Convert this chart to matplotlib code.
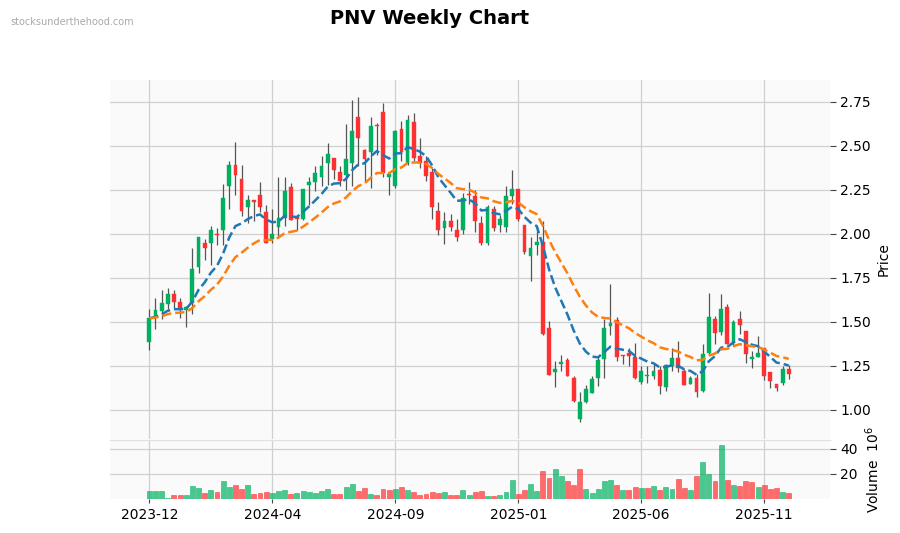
import numpy as np
import pandas as pd
import matplotlib
matplotlib.use("Agg")
import matplotlib.pyplot as plt

# ---- data (weekly OHLC, volume in millions) ----
dates = pd.date_range("2023-12-04", periods=105, freq="W-MON")

opens = [1.386, 1.530, 1.562, 1.603, 1.656, 1.611, 1.568, 1.605, 1.811, 1.945,
         1.945, 2.001, 2.020, 2.269, 2.392, 2.313, 2.151, 2.192, 2.220, 2.126,
         1.968, 2.037, 2.090, 2.264, 2.094, 2.086, 2.279, 2.294, 2.320, 2.401,
         2.430, 2.350, 2.332, 2.401, 2.662, 2.477, 2.462, 2.617, 2.690, 2.322,
         2.269, 2.596, 2.401, 2.633, 2.443, 2.415, 2.350, 2.132, 2.030, 2.075,
         2.024, 2.020, 2.224, 2.216, 2.062, 1.949, 2.143, 2.049, 2.037, 2.213,
         2.256, 2.052, 1.873, 1.935, 1.954, 1.464, 1.217, 1.260, 1.283, 1.181,
         0.949, 1.047, 1.096, 1.183, 1.288, 1.477, 1.511, 1.313, 1.322, 1.303,
         1.160, 1.190, 1.194, 1.226, 1.133, 1.252, 1.292, 1.222, 1.150, 1.181,
         1.109, 1.326, 1.518, 1.443, 1.586, 1.379, 1.515, 1.447, 1.290, 1.300,
         1.349, 1.218, 1.150, 1.152, 1.235]
highs = [1.571, 1.637, 1.679, 1.690, 1.679, 1.637, 1.590, 1.920, 1.980, 1.968,
         2.043, 2.034, 2.283, 2.415, 2.522, 2.390, 2.222, 2.194, 2.294, 2.164,
         2.141, 2.320, 2.320, 2.288, 2.094, 2.256, 2.322, 2.386, 2.443, 2.515,
         2.430, 2.383, 2.624, 2.760, 2.779, 2.482, 2.662, 2.630, 2.741, 2.340,
         2.590, 2.643, 2.675, 2.684, 2.543, 2.439, 2.373, 2.179, 2.124, 2.113,
         2.085, 2.232, 2.292, 2.250, 2.100, 2.166, 2.156, 2.109, 2.269, 2.364,
         2.256, 2.052, 1.983, 2.043, 2.071, 1.505, 1.279, 1.311, 1.292, 1.194,
         1.100, 1.141, 1.194, 1.307, 1.518, 1.716, 1.530, 1.313, 1.349, 1.382,
         1.250, 1.250, 1.260, 1.250, 1.260, 1.354, 1.392, 1.232, 1.190, 1.203,
         1.373, 1.666, 1.533, 1.656, 1.601, 1.511, 1.562, 1.447, 1.335, 1.420,
         1.349, 1.218, 1.150, 1.250, 1.254]
lows = [1.341, 1.462, 1.515, 1.571, 1.571, 1.524, 1.473, 1.543, 1.779, 1.854,
        1.820, 1.935, 1.934, 2.141, 2.222, 2.100, 2.062, 2.075, 2.124, 1.945,
        1.949, 1.986, 2.043, 2.081, 2.024, 2.080, 2.166, 2.241, 2.269, 2.279,
        2.311, 2.269, 2.250, 2.269, 2.383, 2.294, 2.260, 2.450, 2.320, 2.222,
        2.260, 2.411, 2.392, 2.411, 2.373, 2.298, 2.086, 1.992, 1.943, 2.015,
        1.958, 1.996, 2.171, 2.011, 1.939, 1.935, 2.015, 2.011, 2.011, 2.171,
        2.071, 1.888, 1.732, 1.879, 1.424, 1.200, 1.128, 1.219, 1.190, 1.047,
        0.930, 1.040, 1.096, 1.137, 1.184, 1.424, 1.279, 1.260, 1.247, 1.175,
        1.147, 1.152, 1.175, 1.090, 1.109, 1.222, 1.213, 1.141, 1.147, 1.071,
        1.103, 1.317, 1.373, 1.424, 1.373, 1.364, 1.430, 1.264, 1.237, 1.298,
        1.170, 1.124, 1.105, 1.141, 1.175]
closes = [1.520, 1.566, 1.605, 1.656, 1.613, 1.571, 1.585, 1.801, 1.979, 1.917,
          2.024, 1.992, 2.205, 2.392, 2.332, 2.128, 2.192, 2.179, 2.151, 1.949,
          1.996, 2.090, 2.245, 2.081, 2.085, 2.256, 2.296, 2.345, 2.386, 2.454,
          2.364, 2.298, 2.424, 2.584, 2.541, 2.426, 2.613, 2.610, 2.345, 2.337,
          2.584, 2.467, 2.647, 2.430, 2.401, 2.326, 2.150, 2.020, 2.075, 2.037,
          1.981, 2.203, 2.220, 2.071, 1.949, 2.154, 2.030, 2.085, 2.216, 2.256,
          2.086, 1.896, 1.917, 1.954, 1.430, 1.200, 1.232, 1.270, 1.194, 1.050,
          1.045, 1.119, 1.175, 1.283, 1.467, 1.492, 1.303, 1.309, 1.307, 1.179,
          1.222, 1.198, 1.222, 1.137, 1.256, 1.292, 1.237, 1.143, 1.181, 1.100,
          1.315, 1.528, 1.439, 1.571, 1.373, 1.500, 1.482, 1.317, 1.300, 1.322,
          1.194, 1.166, 1.124, 1.232, 1.203]
volumes = [6.4, 6.4, 6.4, 0.8, 3.2, 3.2, 3.2, 10.1, 9.1, 4.8,
           7.2, 5.6, 14.4, 9.6, 11.2, 7.7, 11.2, 4.0, 4.8, 5.6,
           4.8, 6.1, 7.2, 4.0, 4.8, 6.4, 5.6, 5.1, 6.4, 7.7,
           4.0, 4.0, 9.3, 12.0, 6.4, 8.8, 4.0, 3.2, 8.0, 7.2,
           8.0, 9.6, 7.2, 5.6, 3.2, 4.0, 5.6, 4.5, 5.6, 3.2,
           3.2, 7.2, 3.2, 5.6, 6.4, 2.4, 2.4, 3.2, 5.6, 15.2,
           4.0, 7.2, 12.0, 6.4, 22.4, 16.8, 24.0, 18.4, 14.4, 11.2,
           24.0, 8.0, 4.8, 8.0, 14.4, 15.2, 11.2, 7.2, 7.2, 9.6,
           8.8, 8.8, 10.4, 7.2, 9.6, 8.0, 16.0, 8.8, 7.2, 18.4,
           29.6, 20.0, 14.4, 43.2, 15.2, 11.2, 10.4, 14.4, 13.6, 9.6,
           11.2, 8.0, 8.8, 5.6, 4.8]

price_ticks = [1.00, 1.25, 1.50, 1.75, 2.00, 2.25, 2.50, 2.75]
vol_ticks = [20, 40]
xtick_idx = [0, 20, 40, 60, 80, 100]

# ---- derived ----
o = np.array(opens); h = np.array(highs); l = np.array(lows); c = np.array(closes)
v = np.array(volumes)
x = np.arange(len(c))
ema10 = pd.Series(c).ewm(span=10, adjust=False).mean()
ema20 = pd.Series(c).ewm(span=20, adjust=False).mean()

UP = "#00b060"
DN = "#fe3032"
up = c >= o
cand_col = np.where(up, UP, DN)
prev = np.concatenate([[c[0]], c[:-1]])
vol_col = np.where(c >= prev, UP, DN)

fig = plt.figure(figsize=(9, 5.33), dpi=100)
fig.patch.set_facecolor("white")
ax1 = fig.add_axes([110/900, 94/533, 720/900, 359/533])
ax2 = fig.add_axes([110/900, 34/533, 720/900, 59/533], sharex=ax1)

for ax in (ax1, ax2):
    ax.set_facecolor("#fafafa")
    for s in ax.spines.values():
        s.set_visible(False)
    ax.grid(True, color="#d0d0d0", linewidth=0.9, linestyle="-")
    ax.set_axisbelow(True)
    ax.yaxis.tick_right()
    ax.yaxis.set_label_position("right")
    ax.tick_params(axis="y", which="both", left=False, right=True, length=4,
                   color="#444444", labelsize=10)
ax2.spines["top"].set_visible(True)
ax2.spines["top"].set_color("#e2e2e2")
ax2.spines["top"].set_linewidth(1.0)

# candles
ax1.vlines(x, l, h, color="#555555", linewidth=0.9, zorder=2)
body_h = np.maximum(np.abs(c - o), 0.004)
ax1.bar(x, body_h, bottom=np.minimum(o, c), width=0.62, color=cand_col,
        edgecolor=cand_col, linewidth=0.3, zorder=3)
ax1.plot(x, ema10, color="#1f77b4", linestyle="--", linewidth=1.8, zorder=4)
ax1.plot(x, ema20, color="#ff7f0e", linestyle="--", linewidth=1.8, zorder=4)

ax1.set_ylim(0.835, 2.873)
ax1.set_yticks(price_ticks)
ax1.set_yticklabels([f"{t:.2f}" for t in price_ticks])
ax1.set_ylabel("Price", fontsize=10)
ax1.tick_params(axis="x", which="both", bottom=False, labelbottom=False)

# volume
ax2.bar(x, v, width=0.8, color=vol_col, alpha=0.7, edgecolor=vol_col,
        linewidth=0.5, zorder=3)
ax2.set_ylim(0, 47)
ax2.set_yticks(vol_ticks)
ax2.set_ylabel("Volume  $10^{6}$", fontsize=10)
ax2.set_xlim(-6.4, len(c) - 1 + 6.7)
ax2.set_xticks(xtick_idx)
ax2.set_xticklabels([dates[i].strftime("%Y-%m") for i in xtick_idx])
ax2.tick_params(axis="x", length=3, color="#444444", labelsize=10)

fig.text(430/900, 1 - 18/533, "PNV Weekly Chart", ha="center", va="center",
         fontsize=14, fontweight="bold")
fig.text(10/900, 1 - 22/533, "stocksunderthehood.com", ha="left", va="center",
         fontsize=7, color="#aaaaaa")

fig.savefig("out.png", dpi=100)
